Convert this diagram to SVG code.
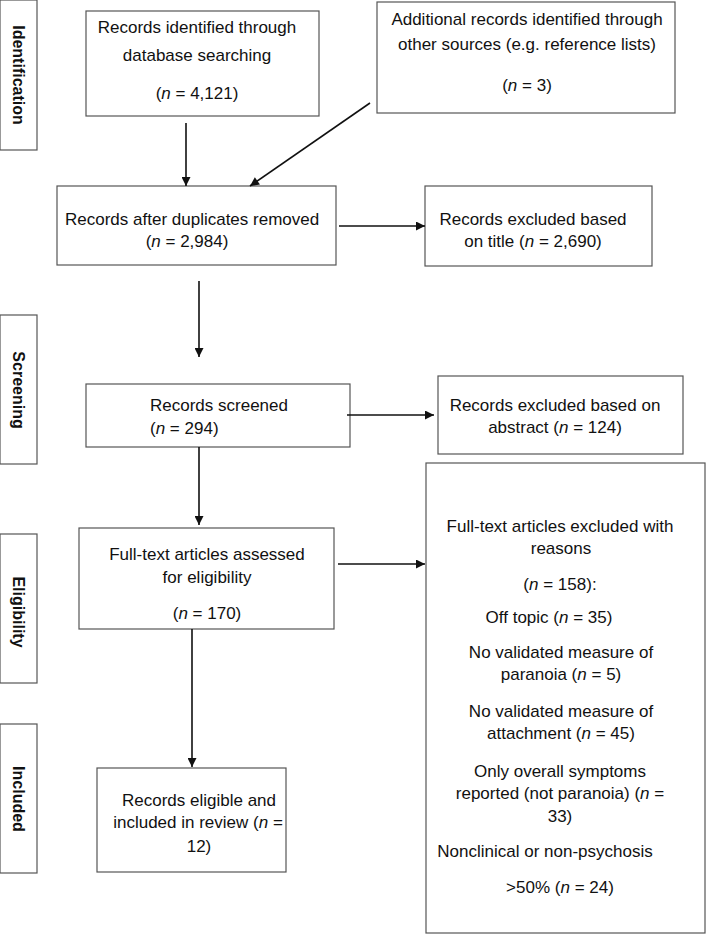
<svg xmlns="http://www.w3.org/2000/svg" width="709" height="936" viewBox="0 0 709 936">
<style>
.box{fill:#fff;stroke:#555;stroke-width:1.2}
.t{font-family:"Liberation Sans",Arial,sans-serif;font-size:17px;fill:#111;text-anchor:middle}
.l{text-anchor:start}
.side{font-family:"Liberation Sans",Arial,sans-serif;font-size:16px;font-weight:bold;fill:#111;text-anchor:middle;dominant-baseline:central}
.i{font-style:italic}
.c{stroke:#111;stroke-width:1.6;fill:none}
</style>
<defs>
<marker id="ah" viewBox="0 0 10 10" refX="10" refY="5" markerWidth="10" markerHeight="9" markerUnits="userSpaceOnUse" orient="auto">
<path d="M0,0 L10,5 L0,10 z" fill="#111"/>
</marker>
</defs>
<rect width="709" height="936" fill="#fff"/>

<g id="side-identification"><rect class="box" x="0" y="0" width="37" height="150"/><text class="side" transform="translate(18,75) rotate(90)">Identification</text></g>
<g id="side-screening"><rect class="box" x="0" y="315" width="37" height="149"/><text class="side" transform="translate(18,390) rotate(90)">Screening</text></g>
<g id="side-eligibility"><rect class="box" x="0" y="534" width="37" height="149"/><text class="side" transform="translate(18,612) rotate(90)">Eligibility</text></g>
<g id="side-included"><rect class="box" x="0" y="724" width="37" height="149"/><text class="side" transform="translate(18,799) rotate(90)">Included</text></g>

<g id="db-search"><rect class="box" x="86" y="11" width="233" height="105"/>
<text class="t" x="197" y="33">Records identified through</text>
<text class="t" x="197" y="61">database searching</text>
<text class="t" x="197" y="99">(<tspan class="i">n</tspan> = 4,121)</text></g>

<g id="other-sources"><rect class="box" x="377" y="2" width="298" height="111"/>
<text class="t" x="527" y="25">Additional records identified through</text>
<text class="t" x="527" y="50">other sources (e.g. reference lists)</text>
<text class="t" x="527" y="91">(<tspan class="i">n</tspan> = 3)</text></g>

<g id="dedup"><rect class="box" x="57" y="186" width="279" height="79"/>
<text class="t l" x="65" y="225">Records after duplicates removed</text>
<text class="t" x="187" y="247">(<tspan class="i">n</tspan> = 2,984)</text></g>

<g id="excl-title"><rect class="box" x="425" y="186" width="227" height="80"/>
<text class="t" x="533" y="225">Records excluded based</text>
<text class="t" x="533" y="247">on title (<tspan class="i">n</tspan> = 2,690)</text></g>

<g id="screened"><rect class="box" x="86" y="384" width="264" height="63"/>
<text class="t l" x="150" y="411">Records screened</text>
<text class="t l" x="150" y="434">(<tspan class="i">n</tspan> = 294)</text></g>

<g id="excl-abstract"><rect class="box" x="438" y="376" width="245" height="78"/>
<text class="t" x="555" y="411">Records excluded based on</text>
<text class="t" x="555" y="433">abstract (<tspan class="i">n</tspan> = 124)</text></g>

<g id="fulltext"><rect class="box" x="79" y="528" width="255" height="101"/>
<text class="t" x="207" y="560">Full-text articles assessed</text>
<text class="t" x="207" y="583">for eligibility</text>
<text class="t" x="207" y="619">(<tspan class="i">n</tspan> = 170)</text></g>

<g id="excl-fulltext"><rect class="box" x="426" y="463" width="279" height="470"/>
<text class="t" x="560" y="532">Full-text articles excluded with</text>
<text class="t" x="561" y="554">reasons</text>
<text class="t" x="560" y="590">(<tspan class="i">n</tspan> = 158):</text>
<text class="t" x="549" y="623">Off topic (<tspan class="i">n</tspan> = 35)</text>
<text class="t" x="561" y="658">No validated measure of</text>
<text class="t" x="561" y="680">paranoia (<tspan class="i">n</tspan> = 5)</text>
<text class="t" x="561" y="717">No validated measure of</text>
<text class="t" x="561" y="739">attachment (<tspan class="i">n</tspan> = 45)</text>
<text class="t" x="560" y="777">Only overall symptoms</text>
<text class="t" x="560" y="799">reported (not paranoia) (<tspan class="i">n</tspan> =</text>
<text class="t" x="560" y="822">33)</text>
<text class="t" x="545" y="857">Nonclinical or non-psychosis</text>
<text class="t" x="560" y="893">&gt;50% (<tspan class="i">n</tspan> = 24)</text></g>

<g id="included"><rect class="box" x="97" y="768" width="189" height="104"/>
<text class="t" x="199" y="806">Records eligible and</text>
<text class="t" x="198" y="828">included in review (<tspan class="i">n</tspan> =</text>
<text class="t" x="199" y="852">12)</text></g>

<g id="connectors">
<line class="c" x1="186" y1="123" x2="186" y2="186" marker-end="url(#ah)"/>
<line class="c" x1="370" y1="103" x2="250" y2="186" marker-end="url(#ah)"/>
<line class="c" x1="339" y1="226" x2="425" y2="226" marker-end="url(#ah)"/>
<line class="c" x1="199" y1="281" x2="199" y2="357" marker-end="url(#ah)"/>
<line class="c" x1="347" y1="415" x2="434" y2="415" marker-end="url(#ah)"/>
<line class="c" x1="199" y1="447" x2="199" y2="525" marker-end="url(#ah)"/>
<line class="c" x1="338" y1="564" x2="425" y2="564" marker-end="url(#ah)"/>
<line class="c" x1="192" y1="629" x2="192" y2="767" marker-end="url(#ah)"/>
</g>
</svg>
